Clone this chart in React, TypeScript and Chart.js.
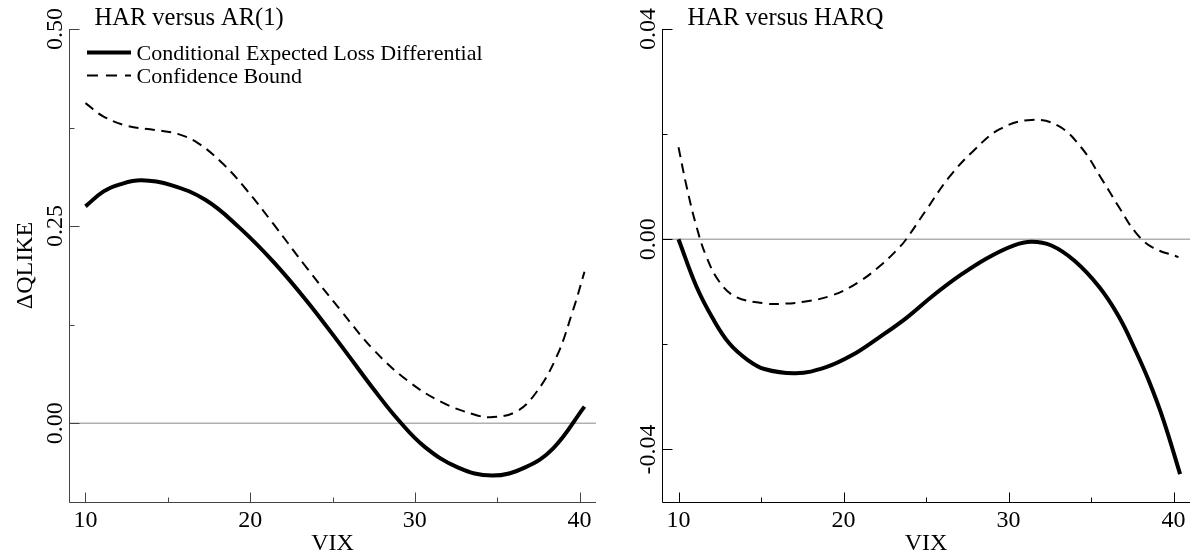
import React, { useEffect, useRef } from 'react';
import { Chart, registerables } from 'chart.js';

Chart.register(...registerables);

const FONT = '"Liberation Serif", "Times New Roman", Times, serif';

// ---------- Left panel: HAR versus AR(1) ----------
const leftLossVix = [10.0, 11.1, 12.1, 13.4, 15.2, 17.3, 19.3, 21.4, 23.4, 25.5, 27.5, 29.0, 30.6, 32.6, 34.7, 36.7, 38.4, 40.3];
const leftLossDiff = [0.275, 0.294, 0.303, 0.308, 0.302, 0.283, 0.249, 0.205, 0.156, 0.099, 0.043, 0.004, -0.03, -0.056, -0.0665, -0.056, -0.032, 0.021];
const leftBoundVix = [10.0, 11.1, 12.55, 14.2, 15.6, 16.85, 18.3, 19.7, 21.4, 23.4, 25.5, 27.5, 29.55, 31.6, 33.6, 34.6, 36.1, 37.3, 38.6, 39.6, 40.3];
const leftBound = [0.406, 0.389, 0.377, 0.372, 0.367, 0.355, 0.33, 0.298, 0.253, 0.198, 0.143, 0.093, 0.054, 0.027, 0.011, 0.0076, 0.014, 0.037, 0.084, 0.143, 0.192];

// ---------- Right panel: HAR versus HARQ ----------
const rightLossVix = [10.0, 11.1, 12.1, 13.1, 14.2, 15.2, 17.1, 18.9, 20.5, 22.1, 23.8, 25.4, 27.1, 28.7, 30.3, 31.4, 32.6, 34.0, 35.5, 36.7, 37.7, 38.5, 39.4, 40.4];
const rightLossDiff = [0.0, -0.0091, -0.0152, -0.0199, -0.023, -0.0247, -0.0255, -0.0244, -0.0221, -0.0188, -0.015, -0.0108, -0.0068, -0.0036, -0.0012, -0.0005, -0.0012, -0.0041, -0.0091, -0.0148, -0.0212, -0.0269, -0.0345, -0.0447];
const rightBoundVix = [10.0, 10.5, 11.1, 11.7, 12.5, 13.5, 15.2, 16.1, 17.6, 19.3, 20.9, 22.35, 23.4, 23.8, 25.0, 26.4, 27.9, 29.5, 31.4, 33.0, 34.4, 35.7, 36.7, 37.7, 38.7, 40.3];
const rightBound = [0.0175, 0.0099, 0.0023, -0.0034, -0.0082, -0.011, -0.0122, -0.0123, -0.0119, -0.0107, -0.0082, -0.0047, -0.0015, 0.0, 0.0055, 0.0118, 0.0169, 0.021, 0.0227, 0.0216, 0.0175, 0.0112, 0.0061, 0.0013, -0.0015, -0.0034];

// ---------- Ticks and labels ----------
const xMajorTicks = [10, 20, 30, 40];
const xTickLabels = ['10', '20', '30', '40'];
const xMinorTicks = [15, 25, 35];
const leftYMajorTicks = [0, 0.25, 0.5];
const leftYTickLabels = ['0.00', '0.25', '0.50'];
const leftYMinorTicks = [0.125, 0.375];
const rightYMajorTicks = [-0.04, 0, 0.04];
const rightYTickLabels = ['-0.04', '0.00', '0.04'];
const rightYMinorTicks = [-0.02, 0.02];
const legendLabels = ['Conditional Expected Loss Differential', 'Confidence Bound'];
const panelTitles = ['HAR versus AR(1)', 'HAR versus HARQ'];
const xAxisTitle = 'VIX';
const yAxisTitle = '\u0394QLIKE';

type PanelProps = {
  left: number;
  width: number;
  height: number;
  padding: { left: number; right: number; top: number; bottom: number };
  title: string;
  lossX: number[];
  lossY: number[];
  boundX: number[];
  boundY: number[];
  yMin: number;
  yMax: number;
  yMajor: number[];
  yLabels: string[];
  yMinor: number[];
  yTitle?: string;
  showLegend: boolean;
  axisColor: string;
};

function Panel(p: PanelProps) {
  const ref = useRef<HTMLCanvasElement | null>(null);
  useEffect(() => {
    const canvas = ref.current;
    if (!canvas) return;

    const decor = {
      id: 'decor',
      beforeDatasetsDraw(chart: any) {
        const { ctx, chartArea: a, scales } = chart;
        const y0 = scales.y.getPixelForValue(0);
        ctx.save();
        ctx.strokeStyle = '#b0b0b0';
        ctx.lineWidth = 1.5;
        ctx.beginPath();
        ctx.moveTo(a.left, y0);
        ctx.lineTo(a.right, y0);
        ctx.stroke();
        ctx.restore();
      },
      afterDraw(chart: any) {
        const { ctx, chartArea: a, scales } = chart;
        const xs = scales.x;
        const ys = scales.y;
        ctx.save();
        ctx.strokeStyle = p.axisColor;
        ctx.lineWidth = 1;
        const ax = Math.round(a.left) + 0.5;
        const ay = Math.round(a.bottom) + 0.5;
        ctx.beginPath();
        ctx.moveTo(ax, a.top);
        ctx.lineTo(ax, ay);
        ctx.lineTo(a.right, ay);
        xMajorTicks.forEach((v) => {
          const px = Math.round(xs.getPixelForValue(v)) + 0.5;
          ctx.moveTo(px, ay);
          ctx.lineTo(px, ay - 10);
        });
        xMinorTicks.forEach((v) => {
          const px = Math.round(xs.getPixelForValue(v)) + 0.5;
          ctx.moveTo(px, ay);
          ctx.lineTo(px, ay - 5);
        });
        p.yMajor.forEach((v) => {
          const py = Math.round(ys.getPixelForValue(v)) + 0.5;
          ctx.moveTo(ax, py);
          ctx.lineTo(ax + 10, py);
        });
        p.yMinor.forEach((v) => {
          const py = Math.round(ys.getPixelForValue(v)) + 0.5;
          ctx.moveTo(ax, py);
          ctx.lineTo(ax + 5, py);
        });
        ctx.stroke();

        ctx.fillStyle = '#000';
        ctx.font = `24px ${FONT}`;
        ctx.textAlign = 'center';
        ctx.textBaseline = 'alphabetic';
        xMajorTicks.forEach((v, i) => {
          ctx.fillText(xTickLabels[i], xs.getPixelForValue(v), a.bottom + 25);
        });
        ctx.fillText(xAxisTitle, (a.left + a.right) / 2, a.bottom + 48);

        p.yMajor.forEach((v, i) => {
          ctx.save();
          ctx.translate(a.left - 7.5, ys.getPixelForValue(v));
          ctx.rotate(-Math.PI / 2);
          ctx.fillText(p.yLabels[i], 0, 0);
          ctx.restore();
        });

        if (p.yTitle) {
          ctx.save();
          ctx.translate(32, (a.top + a.bottom) / 2);
          ctx.rotate(-Math.PI / 2);
          ctx.fillText(p.yTitle, 0, 0);
          ctx.restore();
        }

        ctx.textAlign = 'left';
        ctx.font = `24.5px ${FONT}`;
        ctx.fillText(p.title, a.left + 25.5, 25);

        if (p.showLegend) {
          const lx0 = a.left + 18;
          const lx1 = a.left + 62;
          ctx.strokeStyle = '#000';
          ctx.lineWidth = 4;
          ctx.beginPath();
          ctx.moveTo(lx0, 52.5);
          ctx.lineTo(lx1, 52.5);
          ctx.stroke();
          ctx.lineWidth = 2;
          ctx.setLineDash([11, 8]);
          ctx.beginPath();
          ctx.moveTo(lx0, 75.5);
          ctx.lineTo(lx1, 75.5);
          ctx.stroke();
          ctx.setLineDash([]);
          ctx.font = `22px ${FONT}`;
          ctx.fillText(legendLabels[0], a.left + 67.5, 60);
          ctx.fillText(legendLabels[1], a.left + 67.5, 82.5);
        }
        ctx.restore();
      },
    };

    const chart = new Chart(canvas, {
      type: 'line',
      data: {
        datasets: [
          {
            label: legendLabels[0],
            data: p.lossX.map((x, i) => ({ x, y: p.lossY[i] })),
            borderColor: '#000',
            borderWidth: 4,
            pointRadius: 0,
            fill: false,
            tension: 0.4,
          },
          {
            label: legendLabels[1],
            data: p.boundX.map((x, i) => ({ x, y: p.boundY[i] })),
            borderColor: '#000',
            borderWidth: 2,
            borderDash: [10, 6.5],
            pointRadius: 0,
            fill: false,
            tension: 0.4,
          },
        ],
      },
      options: {
        animation: false,
        responsive: false,
        events: [],
        layout: { padding: p.padding },
        plugins: {
          legend: { display: false },
          tooltip: { enabled: false },
          title: { display: false },
        },
        scales: {
          x: { type: 'linear', min: 9, max: 41, display: false },
          y: { type: 'linear', min: p.yMin, max: p.yMax, display: false },
        },
      },
      plugins: [decor],
    } as any);
    return () => chart.destroy();
  }, []);

  return (
    <canvas
      ref={ref}
      width={p.width}
      height={p.height}
      style={{ position: 'absolute', left: p.left, top: 0, width: p.width, height: p.height, display: 'block' }}
    />
  );
}

export default function App() {
  return (
    <div style={{ position: 'absolute', left: 0, top: 0, width: 1192, height: 554, background: '#fff' }}>
      <Panel
        left={0}
        width={600}
        height={554}
        padding={{ left: 69, right: 4, top: 29, bottom: 52 }}
        title={panelTitles[0]}
        lossX={leftLossVix}
        lossY={leftLossDiff}
        boundX={leftBoundVix}
        boundY={leftBound}
        yMin={-0.1}
        yMax={0.5}
        yMajor={leftYMajorTicks}
        yLabels={leftYTickLabels}
        yMinor={leftYMinorTicks}
        yTitle={yAxisTitle}
        showLegend={true}
        axisColor="#444"
      />
      <Panel
        left={600}
        width={592}
        height={554}
        padding={{ left: 62, right: 2, top: 29, bottom: 52 }}
        title={panelTitles[1]}
        lossX={rightLossVix}
        lossY={rightLossDiff}
        boundX={rightBoundVix}
        boundY={rightBound}
        yMin={-0.05}
        yMax={0.04}
        yMajor={rightYMajorTicks}
        yLabels={rightYTickLabels}
        yMinor={rightYMinorTicks}
        showLegend={false}
        axisColor="#000"
      />
    </div>
  );
}
